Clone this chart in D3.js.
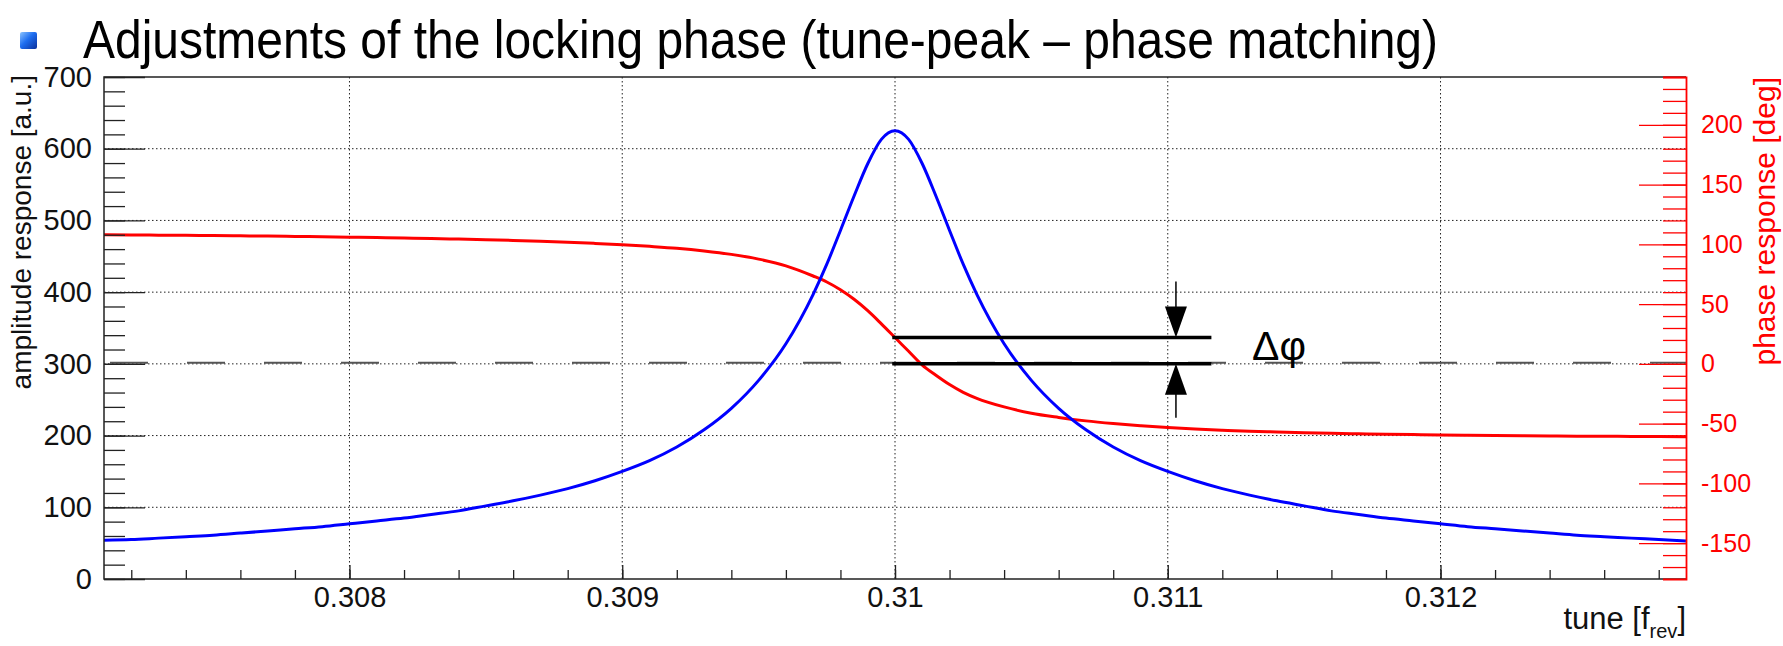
<!DOCTYPE html>
<html><head><meta charset="utf-8">
<script src="https://cdn.jsdelivr.net/npm/d3@7"></script>
<style>
body{margin:0;background:#fff;}
svg{display:block;font-family:"Liberation Sans",Arial,Helvetica,sans-serif;}
</style>
</head><body>
<svg id="chart" width="1783" height="646"></svg>
<script>
// ---- data ----
const tune = [0.3071,0.3072,0.3073,0.3074,0.3075,0.3076,0.3077,0.3078,0.3079,0.3080,
  0.3081,0.3082,0.3083,0.3084,0.3085,0.3086,0.3087,0.3088,0.3089,0.3090,
  0.3091,0.3092,0.3093,0.3094,0.3095,0.3096,0.3097,0.30975,0.3098,0.30985,
  0.3099,0.30995,0.3100,0.31005,0.3101,0.31015,0.3102,0.31025,0.3103,0.3104,
  0.3105,0.3106,0.3107,0.3108,0.3109,0.3110,0.3111,0.3112,0.3113,0.3114,
  0.3115,0.3116,0.3117,0.3118,0.3119,0.3120,0.3121,0.3122,0.3123,0.3124,
  0.3125,0.3126,0.3127,0.3128,0.3129];
const amplitude = [54,55,57,59,61,64,67,70,73,77,
  81,85,90,95,102,109,117,126,137,150,
  165,184,208,238,277,328,397,439,486,534,
  579,613,625,613,579,534,486,439,397,328,
  277,238,208,184,165,150,137,126,117,109,
  102,95,90,85,81,77,73,70,67,64,
  61,59,57,55,53];
const phase = [108.0,107.9,107.7,107.5,107.3,107.1,106.9,106.6,106.3,106.0,
  105.7,105.3,104.9,104.4,103.9,103.3,102.6,101.8,100.8,99.7,
  98.3,96.7,94.5,91.6,87.6,82.0,73.5,68.5,62.0,54.0,
  44.5,33.5,22.0,10.5,-1.0,-9.5,-17.3,-23.8,-28.8,-36.0,
  -41.3,-44.8,-47.7,-49.9,-51.7,-53.3,-54.5,-55.5,-56.4,-57.0,
  -57.6,-58.1,-58.5,-58.9,-59.2,-59.5,-59.7,-59.9,-60.1,-60.3,
  -60.5,-60.6,-60.7,-60.8,-61.0];
const tuneTicks = [0.308,0.309,0.310,0.311,0.312];
const tuneTickLabels = ["0.308","0.309","0.31","0.311","0.312"];
const ampTicks = [0,100,200,300,400,500,600,700];
const phaseTicks = [-150,-100,-50,0,50,100,150,200];
const phaseTickLabels = ["-150","-100","-50","0","50","100","150","200"];
const titleText = "Adjustments of the locking phase (tune-peak \u2013 phase matching)";
const refPhase = 0;          // dashed reference line
const peakTune = [0.30999, 0.31116]; // extent of the two Δφ marker lines
const peakPhase = 22;        // phase at the tune peak
const arrowTune = 0.31103;

// ---- layout ----
const svg = d3.select("#chart");
const L = 104, R = 1686, T = 77, B = 579;
const x = d3.scaleLinear().domain([0.3071, 0.3129]).range([L, R]);
const yA = d3.scaleLinear().domain([0, 700]).range([B, T]);
const yP = d3.scaleLinear().domain([-180, 240]).range([B, T]);

svg.append("rect").attr("width",1783).attr("height",646).attr("fill","#fff");

// title + bullet
const grad = svg.append("defs").append("linearGradient").attr("id","bul")
  .attr("x1","0").attr("y1","0").attr("x2","1").attr("y2","1");
grad.append("stop").attr("offset","0").attr("stop-color","#8cc4ff");
grad.append("stop").attr("offset","0.45").attr("stop-color","#1e6ef0");
grad.append("stop").attr("offset","1").attr("stop-color","#0a2f9a");
svg.append("rect").attr("x",20).attr("y",32).attr("width",17).attr("height",17)
  .attr("rx",2).attr("fill","url(#bul)");
svg.append("text").attr("x",83).attr("y",58).attr("font-size",53)
  .attr("textLength",1355).attr("lengthAdjust","spacingAndGlyphs")
  .attr("fill","#000").text(titleText);

// grid
const grid = svg.append("g").attr("stroke","#222").attr("stroke-width",1)
  .attr("stroke-dasharray","1.5,2.5");
ampTicks.filter(v => v > 0 && v < 700).forEach(v => {
  grid.append("line").attr("x1",L).attr("x2",R).attr("y1",yA(v)).attr("y2",yA(v));
});
tuneTicks.forEach(v => {
  grid.append("line").attr("x1",x(v)).attr("x2",x(v)).attr("y1",T).attr("y2",B);
});

// dashed reference line at 0 deg
svg.append("line").attr("x1",L+6).attr("x2",R).attr("y1",yP(refPhase)-1).attr("y2",yP(refPhase)-1)
  .attr("stroke","#555").attr("stroke-width",2).attr("stroke-dasharray","38,39");

// curves
const lineP = d3.line().x((d,i) => x(tune[i])).y(d => yP(d)).curve(d3.curveMonotoneX);
const lineA = d3.line().x((d,i) => x(tune[i])).y(d => yA(d)).curve(d3.curveMonotoneX);
svg.append("path").attr("d", lineP(phase)).attr("fill","none")
  .attr("stroke","#ff0000").attr("stroke-width",3);
svg.append("path").attr("d", lineA(amplitude)).attr("fill","none")
  .attr("stroke","#0000ff").attr("stroke-width",3);

// frame (left, top, bottom)
svg.append("path").attr("d",`M${R},${T}H${L}V${B}H${R}`).attr("fill","none")
  .attr("stroke","#222").attr("stroke-width",1.5);

// left axis
const leftMinor = svg.append("g").attr("transform",`translate(${L},0)`)
  .call(d3.axisLeft(yA).tickValues(d3.range(0,701,20)).tickSize(-21).tickFormat(""));
const leftMajor = svg.append("g").attr("transform",`translate(${L},0)`)
  .call(d3.axisLeft(yA).tickValues(ampTicks).tickSize(-41).tickPadding(12).tickFormat(d => String(d)));
[leftMinor,leftMajor].forEach(g => { g.select(".domain").remove();
  g.selectAll("line").attr("stroke","#222").attr("stroke-width",1.3); });
leftMajor.selectAll("text").attr("font-size",29).attr("fill","#111")
  .attr("font-family","Liberation Sans, Arial, sans-serif");

// bottom axis
const botMinor = svg.append("g").attr("transform",`translate(0,${B})`)
  .call(d3.axisBottom(x).tickValues(d3.range(0.3072,0.31285,0.0002)).tickSize(-9).tickFormat(""));
const botMajor = svg.append("g").attr("transform",`translate(0,${B})`)
  .call(d3.axisBottom(x).tickValues(tuneTicks).tickSize(-14).tickPadding(7)
    .tickFormat((d,i) => tuneTickLabels[i]));
[botMinor,botMajor].forEach(g => { g.select(".domain").remove();
  g.selectAll("line").attr("stroke","#222").attr("stroke-width",1.3); });
botMajor.selectAll("text").attr("font-size",29).attr("fill","#111")
  .attr("font-family","Liberation Sans, Arial, sans-serif");

// right (phase) axis
const rightMinor = svg.append("g").attr("transform",`translate(${R},0)`)
  .call(d3.axisRight(yP).tickValues(d3.range(-170,241,10)).tickSize(-23).tickFormat(""));
const rightMajor = svg.append("g").attr("transform",`translate(${R},0)`)
  .call(d3.axisRight(yP).tickValues(phaseTicks).tickSize(-47).tickPadding(15)
    .tickFormat((d,i) => phaseTickLabels[i]));
rightMinor.select(".domain").attr("stroke","#ff0000").attr("stroke-width",1.8);
rightMajor.select(".domain").remove();
[rightMinor,rightMajor].forEach(g => g.selectAll("line").attr("stroke","#ff0000").attr("stroke-width",1.3));
rightMajor.selectAll("text").attr("font-size",25).attr("fill","#ff0000")
  .attr("font-family","Liberation Sans, Arial, sans-serif");

// axis titles
svg.append("text").attr("transform",`translate(31,${T-2}) rotate(-90)`)
  .attr("text-anchor","end").attr("font-size",28).attr("fill","#111")
  .text("amplitude response [a.u.]");
svg.append("text").attr("transform",`translate(1775,${T}) rotate(-90)`)
  .attr("text-anchor","end").attr("font-size",30).attr("fill","#ff0000")
  .text("phase response [deg]");
const xt = svg.append("text").attr("x",R).attr("y",629).attr("text-anchor","end")
  .attr("font-size",31).attr("fill","#111");
xt.append("tspan").text("tune [f");
xt.append("tspan").attr("dy",9).attr("font-size",20).text("rev");
xt.append("tspan").attr("dy",-9).text("]");

// Δφ annotation
const ann = svg.append("g");
[peakPhase, refPhase].forEach(p => {
  ann.append("line").attr("x1",x(peakTune[0])).attr("x2",x(peakTune[1]))
    .attr("y1",yP(p)).attr("y2",yP(p)).attr("stroke","#000").attr("stroke-width",3.5);
});
const ax = x(arrowTune), yTop = yP(peakPhase), yBot = yP(refPhase);
ann.append("line").attr("x1",ax).attr("x2",ax).attr("y1",yTop-56).attr("y2",yTop-28)
  .attr("stroke","#000").attr("stroke-width",1.5);
ann.append("path").attr("d",`M${ax},${yTop}L${ax-11},${yTop-31}L${ax+11},${yTop-31}Z`).attr("fill","#000");
ann.append("line").attr("x1",ax).attr("x2",ax).attr("y1",yBot+28).attr("y2",yBot+54)
  .attr("stroke","#000").attr("stroke-width",1.5);
ann.append("path").attr("d",`M${ax},${yBot}L${ax-11},${yBot+31}L${ax+11},${yBot+31}Z`).attr("fill","#000");
ann.append("text").attr("x",1252).attr("y",yBot-4).attr("font-size",41).attr("fill","#000")
  .text("\u0394\u03c6");
</script>
</body></html>
